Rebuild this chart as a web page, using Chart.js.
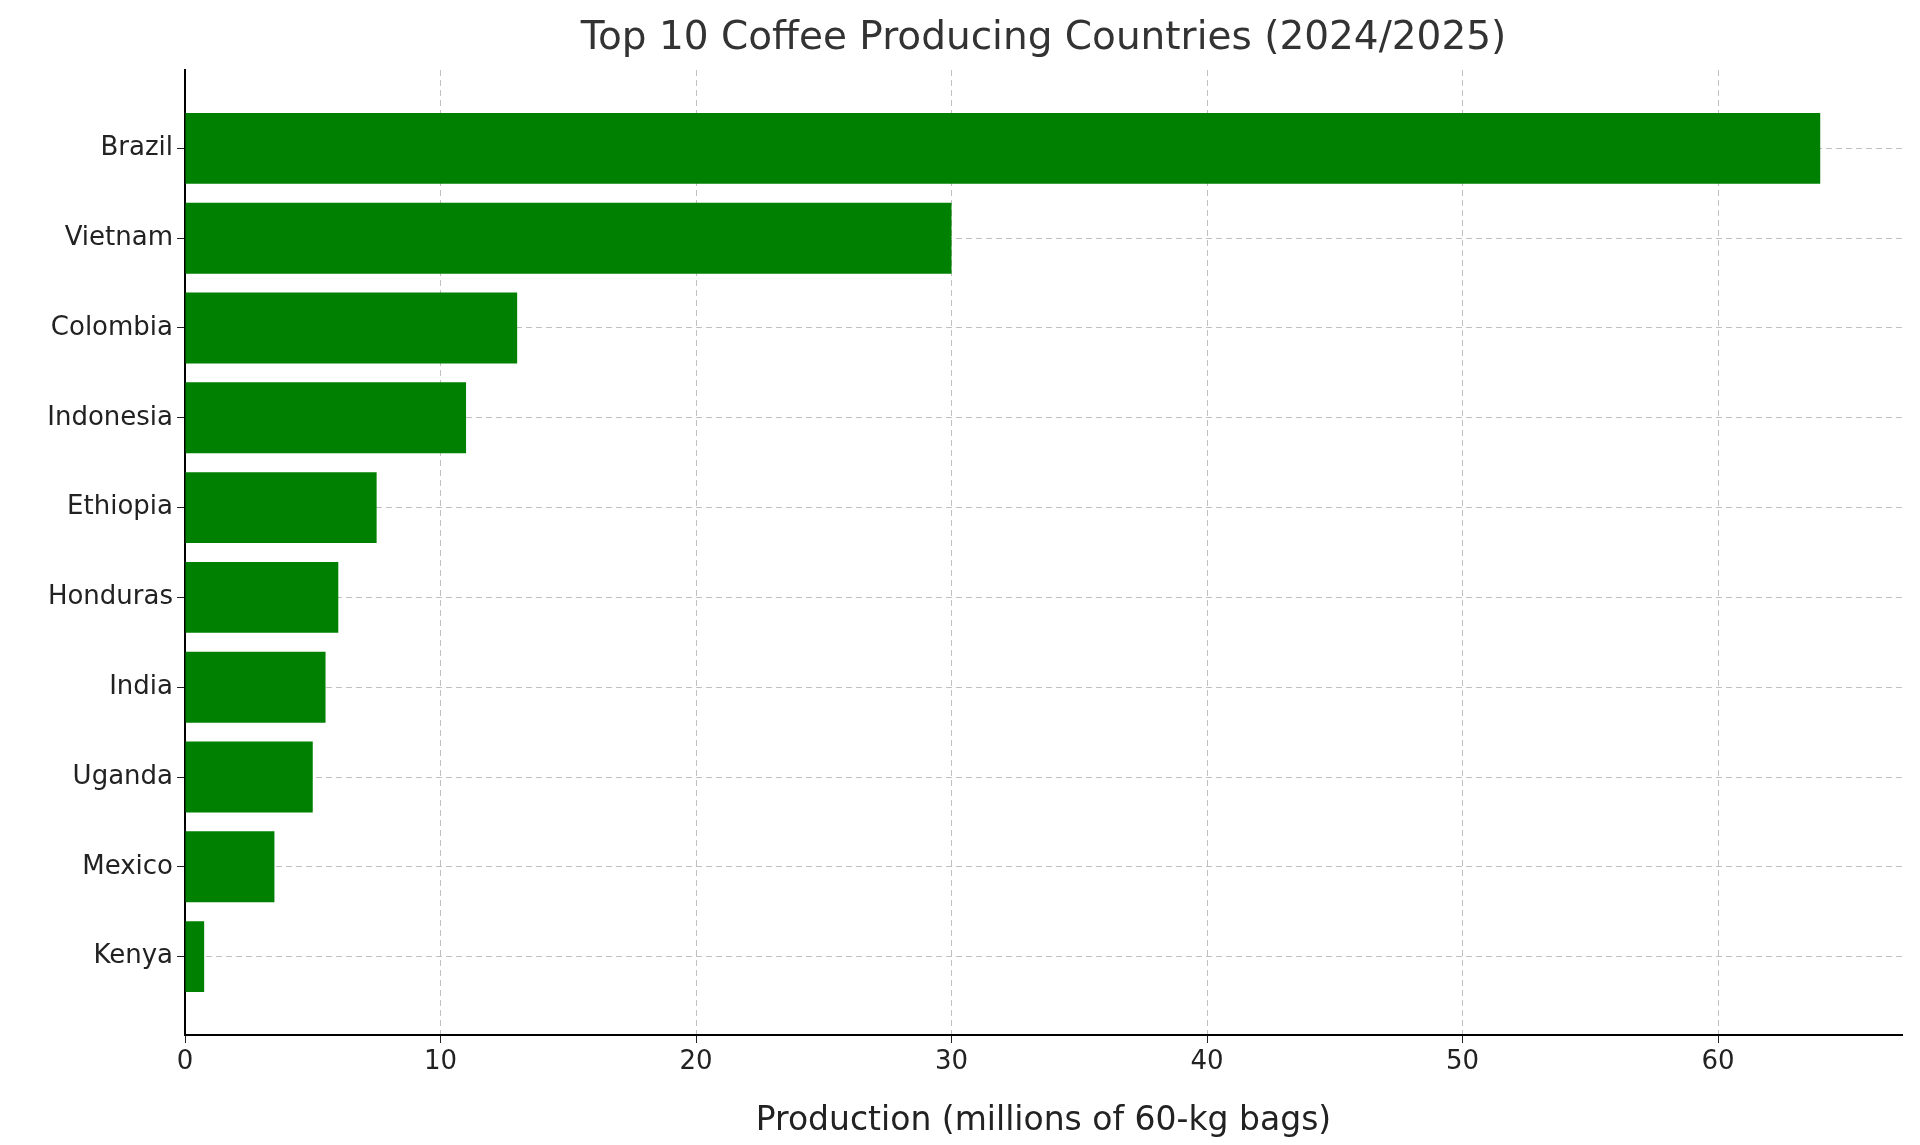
<!DOCTYPE html>
<html><head><meta charset="utf-8">
<script src="https://cdn.jsdelivr.net/npm/chart.js@4"></script>
<style>html,body{margin:0;padding:0;background:#fff}</style>
</head><body>
<canvas id="c" width="1920" height="1145"></canvas>
<script>
const countries = ["Brazil","Vietnam","Colombia","Indonesia","Ethiopia","Honduras","India","Uganda","Mexico","Kenya"];
const production = [64,30,13,11,7.5,6,5.5,5,3.5,0.75];
const chartTitle = "Top 10 Coffee Producing Countries (2024/2025)";
const xTitle = "Production (millions of 60-kg bags)";
const FONT = "'DejaVu Sans', sans-serif";

const titlePlugin = {
  id:'tp',
  afterDraw(ch){
    const c=ch.ctx, a=ch.chartArea;
    c.save(); c.fillStyle='#333'; c.font="39px "+FONT;
    c.textAlign='center'; c.textBaseline='middle';
    c.fillText(chartTitle,(a.left+a.right)/2,39); c.restore();
  }
};

new Chart(document.getElementById('c'),{
  type:'bar',
  data:{labels:countries,datasets:[{data:production,backgroundColor:'#008000',barPercentage:0.79,categoryPercentage:1}]},
  options:{
    indexAxis:'y',responsive:false,animation:false,
    layout:{padding:{top:70,right:18,left:0,bottom:0}},
    plugins:{legend:{display:false},tooltip:{enabled:false}},
    scales:{
      x:{min:0,max:67.2,z:1,
        afterBuildTicks(s){s.ticks=s.ticks.filter(t=>t.value%10===0);},
        afterFit(s){s.height=110;},
        ticks:{stepSize:10,color:'#222',font:{family:FONT,size:26},padding:4},
        grid:{color:'rgba(176,176,176,0.8)',tickColor:'#222',tickLength:8,tickBorderDash:[]},
        border:{color:'#000',width:2,dash:[6,4]},
        title:{display:true,text:xTitle,color:'#222',font:{family:FONT,size:33},padding:{top:4}}
      },
      y:{z:1,offset:false,
        afterFit(s){s.width=185;s._startValue=-0.873;s._valueRange=10.746;},
        ticks:{color:'#222',font:{family:FONT,size:26},padding:4},
        grid:{offset:false,color:'rgba(176,176,176,0.8)',tickColor:'#222',tickLength:8,tickBorderDash:[]},
        border:{color:'#000',width:2,dash:[6,4]}
      }
    }
  },
  plugins:[titlePlugin]
});
</script>
</body></html>
